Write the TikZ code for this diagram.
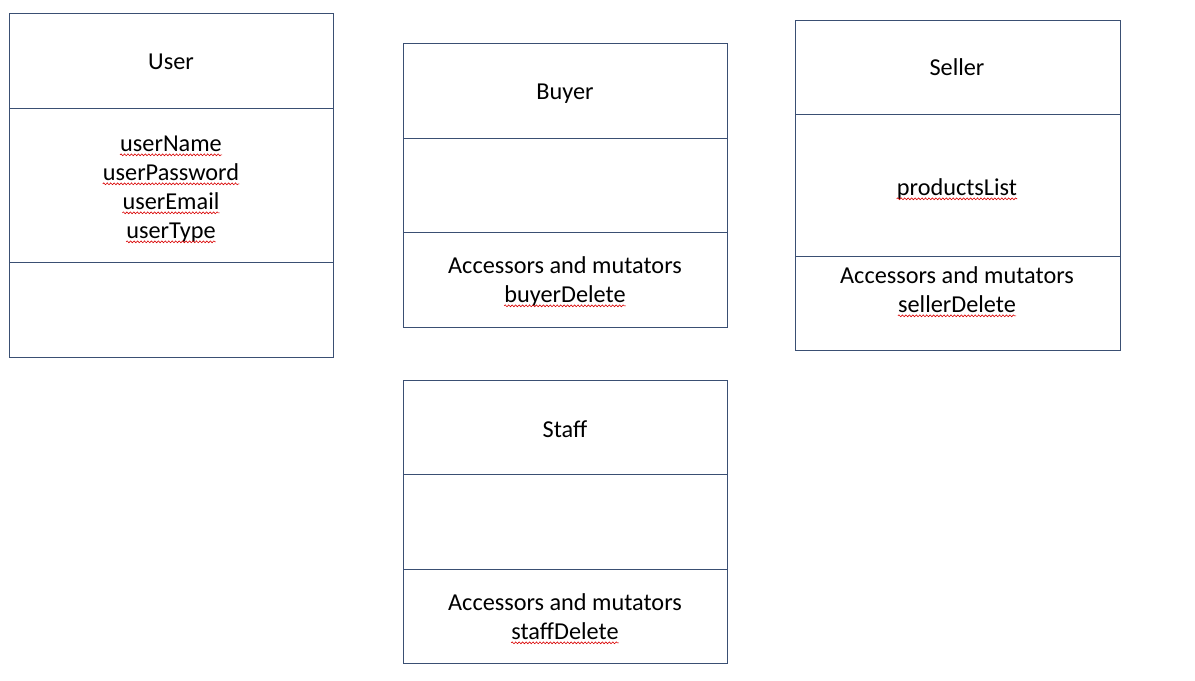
\documentclass[tikz,border=0pt]{standalone}
\usepackage{fontspec}
\setmainfont{Carlito}
\usetikzlibrary{decorations.pathmorphing}
\definecolor{boxline}{RGB}{58,79,115}
\tikzset{
  comp/.style={draw=boxline, line width=0.8pt, rectangle, inner sep=0pt, anchor=north west},
  txt/.style={inner sep=0pt, anchor=base, font=\fontsize{18.2}{21.75}\selectfont, text=black},
  squig/.style={draw=red!85!black, line width=0.45pt, decorate, decoration={snake, segment length=2.6pt, amplitude=0.7pt}}
}
\newcommand{\squnder}[1]{\draw[squig] ([yshift=-2.5pt]#1.base west) -- ([yshift=-2.5pt]#1.base east);}
\begin{document}
\begin{tikzpicture}[x=0.75pt, y=-0.75pt]
\useasboundingbox (0,0) rectangle (1195,681);
% User
\node[comp, minimum width=243pt, minimum height=71.25pt] (uT) at (9,13) {};
\node[comp, minimum width=243pt, minimum height=115.5pt] (uA) at (9,108) {};
\node[comp, minimum width=243pt, minimum height=71.25pt] (uM) at (9,262) {};
\node[txt] (uTitle) at (171,70) {User};
\node[txt] (u1) at (171,151.5) {userName};
\node[txt] (u2) at (171,180.5) {userPassword};
\node[txt] (u3) at (171,209.5) {userEmail};
\node[txt] (u4) at (171,238.5) {userType};
\squnder{u1}\squnder{u2}\squnder{u3}\squnder{u4}
% Buyer
\node[comp, minimum width=243pt, minimum height=71.25pt] (bT) at (403,43) {};
\node[comp, minimum width=243pt, minimum height=70.5pt] (bA) at (403,138) {};
\node[comp, minimum width=243pt, minimum height=71.25pt] (bM) at (403,232) {};
\node[txt] (bTitle) at (565,100) {Buyer};
\node[txt] (b1) at (565,273.5) {Accessors and mutators};
\node[txt] (b2) at (565,302.5) {buyerDelete};
\squnder{b2}
% Seller
\node[comp, minimum width=243.75pt, minimum height=70.5pt] (sT) at (795,20) {};
\node[comp, minimum width=243.75pt, minimum height=106.5pt] (sA) at (795,114) {};
\node[comp, minimum width=243.75pt, minimum height=70.5pt] (sM) at (795,256) {};
\node[txt] (sTitle) at (957,76) {Seller};
\node[txt] (s0) at (957,195.5) {productsList};
\node[txt] (s1) at (957,283.5) {Accessors and mutators};
\node[txt] (s2) at (957,312.5) {sellerDelete};
\squnder{s0}\squnder{s2}
% Staff
\node[comp, minimum width=243pt, minimum height=70.5pt] (fT) at (403,380) {};
\node[comp, minimum width=243pt, minimum height=71.25pt] (fA) at (403,474) {};
\node[comp, minimum width=243pt, minimum height=70.5pt] (fM) at (403,569) {};
\node[txt] (fTitle) at (565,437) {Staff};
\node[txt] (f1) at (565,610.5) {Accessors and mutators};
\node[txt] (f2) at (565,639.5) {staffDelete};
\squnder{f2}
\end{tikzpicture}
\end{document}
